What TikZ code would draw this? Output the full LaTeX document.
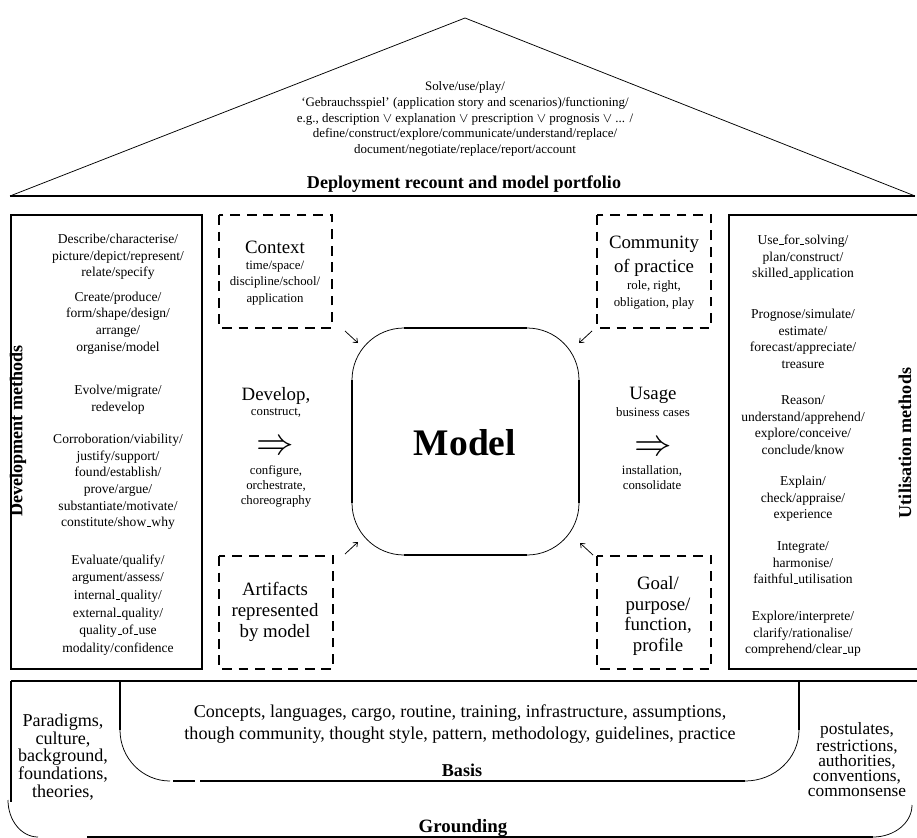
\documentclass[tikz,border=0pt]{standalone}
\usepackage{fontspec}
\setmainfont{Liberation Serif}
\usetikzlibrary{arrows.meta}
\newcommand\myus{\kern.06em\rule{.3em}{.6pt}\kern.02em}
\begin{document}
\begin{tikzpicture}[x=0.6636pt,y=-0.6636pt,
  thk/.style={line width=1.3pt},
  thn/.style={line width=0.5pt},
  dbox/.style={line width=1.3pt, dash pattern=on 6.5pt off 4.5pt},
  lst/.style={inner sep=0pt, align=center, font=\fontsize{9}{11}\selectfont},
  lstb/.style={inner sep=0pt, align=center, font=\fontsize{9}{11.7}\selectfont},
  sml/.style={inner sep=0pt, align=center, font=\fontsize{8.5}{11}\selectfont},
  smlb/.style={inner sep=0pt, align=center, font=\fontsize{8.5}{10}\selectfont},
  lrg/.style={inner sep=0pt, align=center, font=\fontsize{12.5}{13.7}\selectfont},
  ttl/.style={inner sep=0pt, align=center, font=\bfseries\fontsize{12}{14}\selectfont},
  sarr/.style={line width=0.5pt, -{Straight Barb[length=2.5pt,width=4pt]}},
  dbl/.style={inner sep=0pt, font=\Huge, text height=7pt, text depth=0pt}
]
\useasboundingbox (0,0) rectangle (917,838);

% roof
\coordinate (rl) at (10,196);
\coordinate (ra) at (465,18);
\coordinate (rr) at (915,196);
\draw[thn] (rl) -- (ra) -- (rr);
\draw[thk] (rl) -- (rr);
\node[inner sep=0pt, align=center, font=\fontsize{8.6}{10.4}\selectfont] (roof) at (465,119)
 {Solve/use/play/\\
  ‘Gebrauchsspiel’ (application story and scenarios)/functioning/\\
  e.g., description $\vee$ explanation $\vee$ prescription $\vee$ prognosis $\vee$ ... /\\
  define/construct/explore/communicate/understand/replace/\\
  document/negotiate/replace/report/account};
\node[ttl, font=\bfseries\fontsize{12}{14}\selectfont] (deploy) at (464,184) {Deployment recount and model portfolio};

% left box
\draw[thk] (11,215) rectangle (202,669);
\node[ttl, rotate=90] (devm) at (18,431) {Development methods};
\node[lst] (l1) at (118,257) {Describe/characterise/\\picture/depict/represent/\\relate/specify};
\node[lst] (l2) at (118,323) {Create/produce/\\form/shape/design/\\arrange/\\organise/model};
\node[lst] (l3) at (118,400) {Evolve/migrate/\\redevelop};
\node[lst] (l4) at (118,482) {Corroboration/viability/\\justify/support/\\found/establish/\\prove/argue/\\substantiate/motivate/\\constitute/show\myus why};
\node[lstb] (l5) at (118,605) {Evaluate/qualify/\\argument/assess/\\internal\myus quality/\\external\myus quality/\\quality\myus of\myus use\\modality/confidence};

% right box
\draw[thk] (917,215) -- (729,215) -- (729,669) -- (917,669);
\node[ttl, rotate=90] (utm) at (905,443) {Utilisation methods};
\node[lst] (r1) at (803,258) {Use\myus for\myus solving/\\plan/construct/\\skilled\myus application};
\node[lst] (r2) at (803,339) {Prognose/simulate/\\estimate/\\forecast/appreciate/\\treasure};
\node[lst] (r3) at (803,425) {Reason/\\understand/apprehend/\\explore/conceive/\\conclude/know};
\node[lst] (r4) at (803,499) {Explain/\\check/appraise/\\experience};
\node[lst] (r5) at (803,563) {Integrate/\\harmonise/\\faithful\myus utilisation};
\node[lst] (r6) at (803,634) {Explore/interprete/\\clarify/rationalise/\\comprehend/clear\myus up};

% dashed boxes
\draw[dbox] (219,215) rectangle (332,328);
\node[lrg] (ctx) at (275,247) {Context};
\node[sml] (ctxs) at (275,283) {time/space/\\discipline/school/\\application};

\draw[dbox] (597,215) rectangle (711,328);
\node[lrg, font=\fontsize{12.5}{16}\selectfont] (com) at (654,256) {Community\\of practice};
\node[sml] (coms) at (654,295) {role, right,\\obligation, play};

\draw[dbox] (219,556) rectangle (333,669);
\node[lrg] (art) at (275,612) {Artifacts\\represented\\by model};

\draw[dbox] (597,556) rectangle (711,669);
\node[lrg] (goal) at (658,616) {Goal/\\purpose/\\function,\\profile};

% model
\draw[thk] (404,328) -- (527,328);
\draw[thk] (579,380) -- (579,503);
\draw[thk] (527,555) -- (404,555);
\draw[thk] (352,503) -- (352,380);
\draw[thn] (352,380) .. controls (352,351.3) and (375.3,328) .. (404,328);
\draw[thn] (527,328) .. controls (555.7,328) and (579,351.3) .. (579,380);
\draw[thn] (579,503) .. controls (579,531.7) and (555.7,555) .. (527,555);
\draw[thn] (404,555) .. controls (375.3,555) and (352,531.7) .. (352,503);
\node[inner sep=0pt, font=\bfseries\Huge] (model) at (465,443) {Model};

% small arrows
\coordinate (a1s) at (345,331); \coordinate (a1e) at (358,343);
\coordinate (a2s) at (592,331); \coordinate (a2e) at (579,343);
\coordinate (a3s) at (345,554); \coordinate (a3e) at (358,542);
\coordinate (a4s) at (593,555); \coordinate (a4e) at (580,543);
\draw[sarr] (a1s) -- (a1e);
\draw[sarr] (a2s) -- (a2e);
\draw[sarr] (a3s) -- (a3e);
\draw[sarr] (a4s) -- (a4e);

% develop / usage
\node[lrg] (dev) at (276,396) {Develop,};
\node[sml] (devs) at (276,413) {construct,};
\node[dbl] (devar) at (275,449) {$\Rightarrow$};
\node[smlb] (devt) at (276,486) {configure,\\orchestrate,\\choreography};

\node[lrg] (use) at (653,395) {Usage};
\node[sml] (uses) at (653,412) {business cases};
\node[dbl] (usear) at (653,450) {$\Rightarrow$};
\node[smlb] (uset) at (652,478) {installation,\\consolidate};

% foundation
\draw[thk] (11,681) -- (917,681);
\draw[thk] (11,681) -- (11,802);
\draw[thn] (8,800) .. controls (8,820.4) and (21.4,837) .. (38,837);
\draw[thk] (87,837) -- (873,837);
\draw[thn] (873,837) .. controls (894.5,837) and (912,822.7) .. (912,805);

\draw[thk] (120,681) -- (120,730);
\draw[thn] (120,730) .. controls (120,758.2) and (142.4,781) .. (170,781);
\draw[thk] (173,781) -- (195,781);
\draw[thk] (200,781) -- (745,781);
\draw[thn] (745,781) .. controls (774.8,781) and (799,758.2) .. (799,730);
\draw[thk] (799,730) -- (799,681);

\node[inner sep=0pt, align=center, font=\fontsize{12}{14.5}\selectfont] (basist) at (460,724)
 {Concepts, languages, cargo, routine, training, infrastructure, assumptions,\\
  though community, thought style, pattern, methodology, guidelines, practice};
\node[ttl] (basis) at (462,770) {Basis};
\node[ttl, font=\bfseries\fontsize{12.5}{15}\selectfont] (ground) at (463,828) {Grounding};
\node[inner sep=0pt, align=center, font=\fontsize{12}{11.8}\selectfont] (para) at (63,757)
 {Paradigms,\\culture,\\ background,\\foundations,\\theories,};
\node[inner sep=0pt, align=center, font=\fontsize{11.5}{10}\selectfont] (post) at (857,760)
 {postulates,\\restrictions,\\authorities,\\conventions,\\commonsense};
\end{tikzpicture}
\end{document}
